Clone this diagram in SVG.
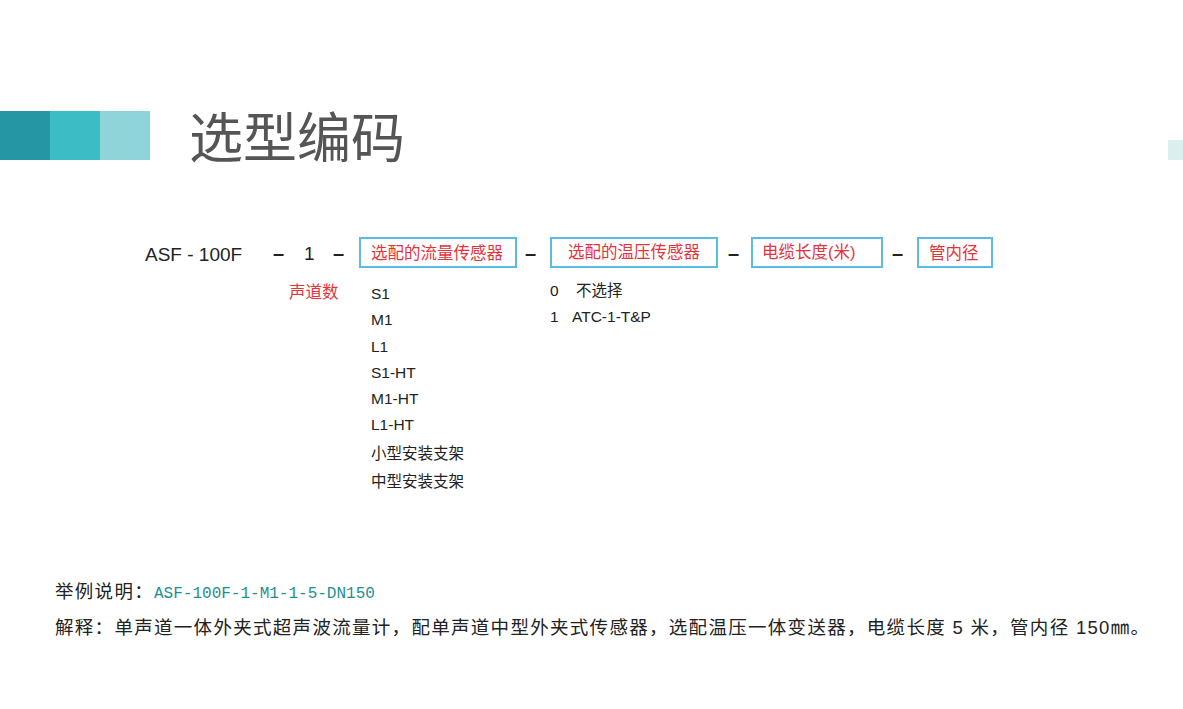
<svg xmlns="http://www.w3.org/2000/svg" width="1183" height="709" viewBox="0 0 1183 709">
<style>
.t{font-family:"Liberation Sans","Noto Sans CJK SC",sans-serif;fill:#222;font-size:15.5px}
.r{font-family:"Liberation Sans","Noto Sans CJK SC",sans-serif;fill:#e6333b;font-size:16.5px}
.box{fill:#fff;stroke:#5bbce2;stroke-width:2}
.d{font-family:"Liberation Sans",sans-serif;fill:#222;font-size:20px;font-weight:bold}
.big{font-size:19px}
.n{font-size:18.5px;letter-spacing:1.3px}
</style>
<rect width="1183" height="709" fill="#fff"/>
<g id="header">
<rect x="0" y="111" width="50" height="49" fill="#2597a4"/>
<rect x="50" y="111" width="50" height="49" fill="#3cbdc5"/>
<rect x="100" y="111" width="50" height="49" fill="#8fd4d9"/>
<text x="189" y="158" font-family="'Noto Sans CJK SC',sans-serif" style="font-size:54px" fill="#555">选型编码</text>
<rect x="1168" y="140" width="15" height="20" fill="#dcefef"/>
</g>
<g id="code">
<text x="145" y="261" class="t big">ASF - 100F</text>
<text x="273" y="260" class="d">–</text>
<text x="304" y="260" class="t big">1</text>
<text x="333" y="260" class="d">–</text>
<text x="525" y="260" class="d">–</text>
<text x="728" y="260" class="d">–</text>
<text x="892" y="260" class="d">–</text>
</g>
<g id="n1"><rect class="box" x="360" y="238" width="156" height="29"/><text class="r" x="371" y="259">选配的流量传感器</text></g>
<g id="n2"><rect class="box" x="551" y="238" width="166" height="29"/><text class="r" x="568" y="258">选配的温压传感器</text></g>
<g id="n3"><rect class="box" x="752" y="238" width="130" height="29"/><text class="r" x="762" y="258">电缆长度(米)</text></g>
<g id="n4"><rect class="box" x="918" y="238" width="74" height="29"/><text class="r" x="929" y="259">管内径</text></g>
<g id="connectors"></g>
<g id="lists">
<text class="r" x="289" y="298">声道数</text>
<g class="t">
<text x="371" y="299">S1</text>
<text x="371" y="325">M1</text>
<text x="371" y="352">L1</text>
<text x="371" y="378">S1-HT</text>
<text x="371" y="404">M1-HT</text>
<text x="371" y="430">L1-HT</text>
<text x="371" y="459">小型安装支架</text>
<text x="371" y="487">中型安装支架</text>
<text x="550" y="296">0</text><text x="576" y="296">不选择</text>
<text x="550" y="322">1</text><text x="572" y="322">ATC-1-T&amp;P</text>
</g>
</g>
<g id="notes">
<text x="55" y="598" class="t n">举例说明：<tspan font-family="'Liberation Mono',monospace" style="font-size:16px;letter-spacing:0" fill="#1e8f92">ASF-100F-1-M1-1-5-DN150</tspan></text>
<text x="55" y="634" class="t n">解释：单声道一体外夹式超声波流量计，配单声道中型外夹式传感器，选配温压一体变送器，电缆长度 5 米，管内径 150㎜。</text>
</g>
</svg>
